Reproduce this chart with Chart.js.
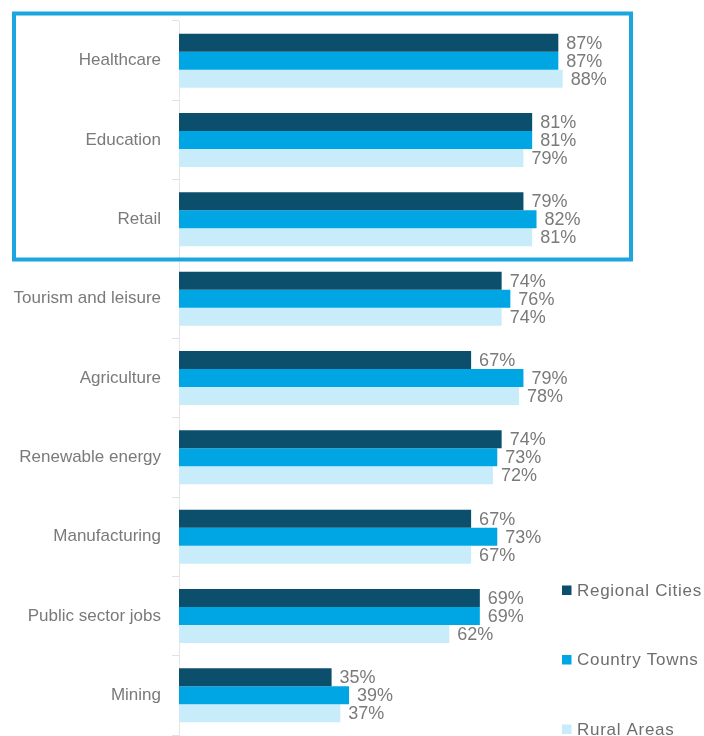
<!DOCTYPE html>
<html>
<head>
<meta charset="utf-8">
<script src="https://cdn.jsdelivr.net/npm/chart.js@4/dist/chart.umd.min.js"></script>
<style>
    html, body { margin: 0; padding: 0; background: #fff; }
    #wrap { width: 704px; height: 736px; position: relative; }
</style>
</head>
<body>
<div id="wrap"><canvas id="sectors"></canvas></div>
<script>
var categories = ['Healthcare', 'Education', 'Retail', 'Tourism and leisure', 'Agriculture',
    'Renewable energy', 'Manufacturing', 'Public sector jobs', 'Mining'];
var seriesNames = ['Regional Cities', 'Country Towns', 'Rural Areas'];
var regionalCities = [87, 81, 79, 74, 67, 74, 67, 69, 35];
var countryTowns = [87, 81, 82, 76, 79, 73, 73, 69, 39];
var ruralAreas = [88, 79, 81, 74, 78, 72, 67, 62, 37];
var colors = ['#0b4f6c', '#00a6e4', '#c8ecf9'];
var highlightedCount = 3;

var FONT = '"Liberation Sans", Arial, sans-serif';
var GREY = '#7a7a7a';

/* percent labels at the end of each bar */
var valueLabels = {
    id: 'valueLabels',
    afterDatasetsDraw: function (chart) {
        var ctx = chart.ctx;
        ctx.save();
        ctx.font = '18px ' + FONT;
        ctx.fillStyle = GREY;
        ctx.textAlign = 'left';
        ctx.textBaseline = 'middle';
        chart.data.datasets.forEach(function (ds, i) {
            chart.getDatasetMeta(i).data.forEach(function (bar, j) {
                ctx.fillText(ds.data[j] + '%', bar.x + 8, bar.y + 1);
            });
        });
        ctx.restore();
    }
};

/* blue frame round the top sectors */
var highlight = {
    id: 'highlight',
    afterDraw: function (chart) {
        var y = chart.scales.y;
        var ctx = chart.ctx;
        var bottom = y.getPixelForValue(highlightedCount - 0.5);
        ctx.save();
        ctx.strokeStyle = '#1ba6e0';
        ctx.lineWidth = 4;
        ctx.strokeRect(14, 13.5, 617, bottom - 13.5 + 0.5);
        ctx.restore();
    }
};

/* legend stacked in the bottom right corner */
var sideLegend = {
    id: 'sideLegend',
    afterDraw: function (chart) {
        var ctx = chart.ctx;
        ctx.save();
        ctx.font = '17px ' + FONT;
        ctx.textBaseline = 'middle';
        ctx.textAlign = 'left';
        ctx.letterSpacing = '0.7px';
        chart.data.datasets.forEach(function (ds, i) {
            var cy = 590 + i * 69.5;
            ctx.fillStyle = ds.backgroundColor;
            ctx.fillRect(562, cy - 4.5, 9.5, 9.5);
            ctx.fillStyle = '#6e6e6e';
            ctx.fillText(ds.label, 577, cy + 1);
        });
        ctx.restore();
    }
};

var ctx = document.getElementById('sectors').getContext('2d');
var chart = new Chart(ctx, {
    type: 'bar',
    data: {
        labels: categories,
        datasets: [
            { label: seriesNames[0], data: regionalCities, backgroundColor: colors[0] },
            { label: seriesNames[1], data: countryTowns, backgroundColor: colors[1] },
            { label: seriesNames[2], data: ruralAreas, backgroundColor: colors[2] }
        ]
    },
    options: {
        indexAxis: 'y',
        responsive: true,
        maintainAspectRatio: false,
        animation: false,
        layout: { padding: { left: 0, right: 89, top: 21, bottom: 1 } },
        datasets: {
            bar: { categoryPercentage: 0.68, barPercentage: 1, borderWidth: 0 }
        },
        scales: {
            x: { display: false, min: 0, max: 100 },
            y: {
                afterFit: function (scale) {
                    scale.width = 179;
                    scale.paddingTop = 0;
                    scale.paddingBottom = 0;
                },
                border: { display: true, color: '#e6e6e6', width: 1 },
                grid: { drawOnChartArea: false, drawTicks: true, tickLength: 7, color: '#e2e2e2' },
                ticks: { color: GREY, padding: 11, font: { family: FONT, size: 17 } }
            }
        },
        plugins: {
            legend: { display: false },
            tooltip: { enabled: false }
        }
    },
    plugins: [valueLabels, highlight, sideLegend]
});
</script>
</body>
</html>
